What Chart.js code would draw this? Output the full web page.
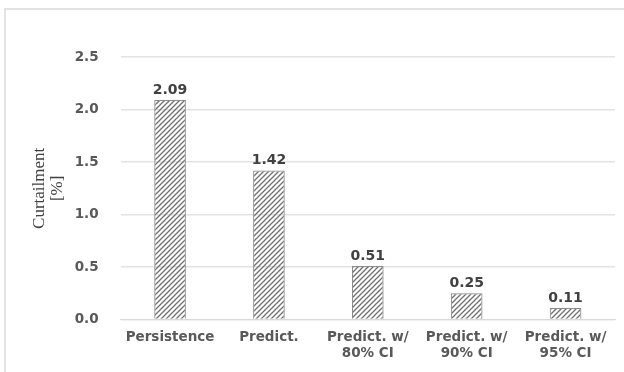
<!DOCTYPE html>
<html>
<head>
<meta charset="utf-8">
<script src="https://cdn.jsdelivr.net/npm/chart.js@4.4.1/dist/chart.umd.min.js"></script>
<style>
  html, body { margin: 0; padding: 0; background: #fff; }
  #frame { position: absolute; left: 4px; top: 8px; width: 700px; height: 400px;
           border-left: 2px solid #e3e3e3; border-top: 2px solid #e3e3e3; }
  #wrap { position: absolute; left: 0; top: 0; width: 624px; height: 372px; }
</style>
</head>
<body>
<div id="frame"></div>
<div id="wrap"><canvas id="myChart"></canvas></div>
<script>
const categories = ['Persistence', 'Predict.', ['Predict. w/', '80% CI'], ['Predict. w/', '90% CI'], ['Predict. w/', '95% CI']];
const curtailment = [2.09, 1.42, 0.51, 0.25, 0.11];
const yTicks = [0, 0.5, 1.0, 1.5, 2.0, 2.5];

// Diagonal hatch fill like the original
function makeHatch() {
    const c = document.createElement('canvas');
    c.width = 5; c.height = 5;
    const g = c.getContext('2d');
    g.strokeStyle = '#707070';
    g.lineWidth = 1.3;
    g.beginPath();
    g.moveTo(-1, 6); g.lineTo(6, -1);
    g.moveTo(-1, 1); g.lineTo(1, -1);
    g.moveTo(4, 6); g.lineTo(6, 4);
    g.stroke();
    return g.createPattern(c, 'repeat');
}

// Value labels above the bars
const valueLabels = {
    id: 'valueLabels',
    afterDatasetsDraw(chart) {
        const ctx = chart.ctx;
        const meta = chart.getDatasetMeta(0);
        ctx.save();
        ctx.font = 'bold 14px "DejaVu Sans"';
        ctx.fillStyle = '#404040';
        ctx.textAlign = 'center';
        ctx.textBaseline = 'bottom';
        meta.data.forEach((bar, i) => {
            ctx.fillText(curtailment[i].toFixed(2), bar.x, bar.y - 3);
        });
        ctx.restore();
    }
};

const ctx = document.getElementById('myChart').getContext('2d');
const myChart = new Chart(ctx, {
    type: 'bar',
    data: {
        labels: categories,
        datasets: [{
            data: curtailment,
            backgroundColor: makeHatch(),
            borderColor: '#8c8c8c',
            borderWidth: 1,
            categoryPercentage: 1,
            barPercentage: 0.32
        }]
    },
    options: {
        responsive: true,
        maintainAspectRatio: false,
        animation: false,
        layout: { padding: { top: 57, bottom: 0, left: 31, right: 9 } },
        scales: {
            x: {
                grid: { display: false, drawTicks: false },
                border: { color: '#d9d9d9', width: 1 },
                ticks: {
                    color: '#595959',
                    font: { family: 'DejaVu Sans', weight: 'bold', size: 13.5 },
                    maxRotation: 0,
                    autoSkip: false,
                    padding: 10
                }
            },
            y: {
                min: 0,
                max: 2.5,
                afterBuildTicks: axis => { axis.ticks = yTicks.map(v => ({ value: v })); },
                grid: { color: '#e3e3e3', lineWidth: 1.5, drawTicks: false },
                border: { display: false },
                ticks: {
                    color: '#595959',
                    font: { family: 'DejaVu Sans', weight: 'bold', size: 13.5 },
                    padding: 22,
                    callback: v => v.toFixed(1)
                },
                title: {
                    display: true,
                    text: ['Curtailment', '[%]'],
                    color: '#404040',
                    font: { family: 'Liberation Serif', size: 17, lineHeight: 1.05 },
                    // negative bottom padding lets the title sit in the space Chart.js reserves
                    padding: { top: 0, bottom: -14 }
                }
            }
        },
        plugins: {
            legend: { display: false },
            tooltip: { enabled: false }
        }
    },
    plugins: [valueLabels]
});
</script>
</body>
</html>
